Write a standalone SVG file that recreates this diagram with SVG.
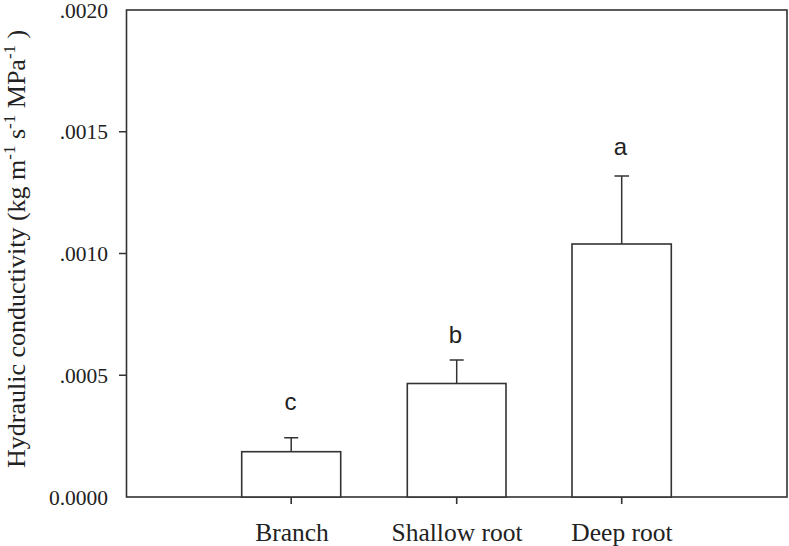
<svg xmlns="http://www.w3.org/2000/svg" width="789" height="546" viewBox="0 0 789 546">
<style>
.ax{fill:none;stroke:#333;stroke-width:1.6}
.bar{fill:#fff;stroke:#333;stroke-width:1.6}
.eb{fill:none;stroke:#333;stroke-width:1.5}
.tk{font-family:"Liberation Serif","Times New Roman",serif;font-size:21.5px;fill:#222;text-anchor:end}
.xl{font-family:"Liberation Serif","Times New Roman",serif;font-size:25.5px;fill:#222;text-anchor:middle}
.yt{font-family:"Liberation Serif","Times New Roman",serif;font-size:26px;fill:#222}
.sig{font-family:"Liberation Sans",Arial,sans-serif;font-size:24px;fill:#222;text-anchor:middle}
</style>
<rect width="789" height="546" fill="#fff"/>
<g id="axes">
<rect class="ax" x="126.5" y="10" width="660.5" height="487"/>
<path class="ax" d="M119 131.75H126.5M119 253.5H126.5M119 375.25H126.5M291.2 497V504M456.7 497V504M621.7 497V504"/>
<text class="tk" x="108" y="17.5">.0020</text>
<text class="tk" x="108" y="139">.0015</text>
<text class="tk" x="108" y="261">.0010</text>
<text class="tk" x="108" y="382.5">.0005</text>
<text class="tk" x="108" y="504.5">0.0000</text>
<text class="yt" transform="translate(25,468) rotate(-90)">Hydraulic conductivity (kg m<tspan dy="-10" font-size="17">-1</tspan><tspan dy="10"> s</tspan><tspan dy="-10" font-size="17">-1</tspan><tspan dy="10"> MPa</tspan><tspan dy="-10" font-size="17">-1</tspan><tspan dy="10"> )</tspan></text>
</g>
<g id="branch">
<rect class="bar" x="241.7" y="451.7" width="99" height="45.3"/>
<path class="eb" d="M291.2 451.7V437.7M284.2 437.7H298.2"/>
<text class="sig" x="290.5" y="410">c</text>
<text class="xl" x="292" y="540.5">Branch</text>
</g>
<g id="shallow">
<rect class="bar" x="407.3" y="383.5" width="98.7" height="113.5"/>
<path class="eb" d="M456.7 383.5V360M449.7 360H463.7"/>
<text class="sig" x="455.5" y="343">b</text>
<text class="xl" x="457" y="540.5">Shallow root</text>
</g>
<g id="deep">
<rect class="bar" x="572" y="244" width="99.3" height="253"/>
<path class="eb" d="M621.7 244V176M614.5 176H629"/>
<text class="sig" x="620.5" y="155">a</text>
<text class="xl" x="622" y="540.5">Deep root</text>
</g>
</svg>
